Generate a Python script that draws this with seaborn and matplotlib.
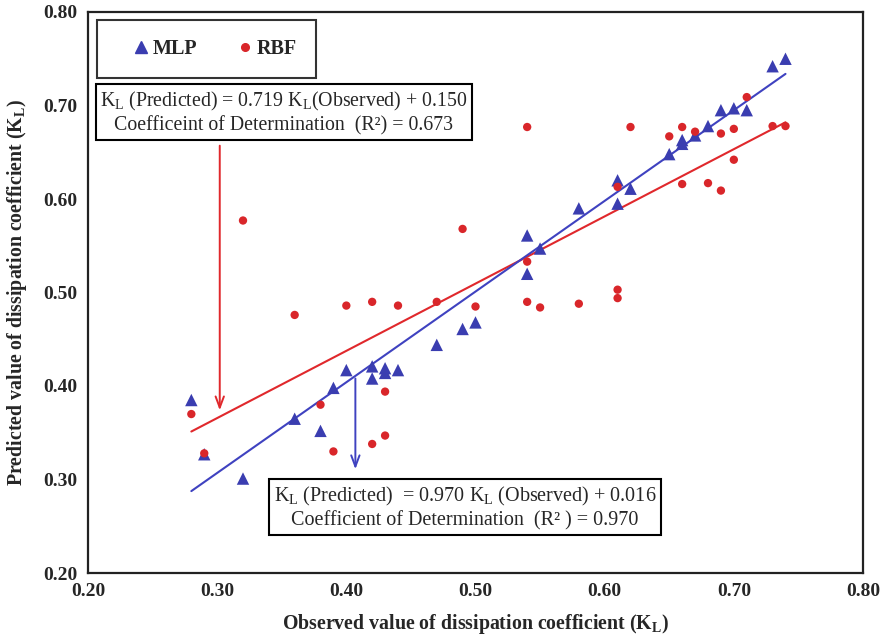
import numpy as np
import pandas as pd
import matplotlib
matplotlib.use("Agg")
import matplotlib.pyplot as plt
import seaborn as sns
from matplotlib.lines import Line2D

# ---- data ----
mlp_x = [0.28, 0.29, 0.32, 0.36, 0.38, 0.39, 0.40, 0.42, 0.42, 0.43, 0.43, 0.44,
         0.47, 0.49, 0.50, 0.54, 0.54, 0.55, 0.58, 0.61, 0.61, 0.62, 0.65, 0.66,
         0.66, 0.67, 0.68, 0.69, 0.70, 0.71, 0.73, 0.74]
mlp_y = [0.385, 0.327, 0.301, 0.365, 0.352, 0.398, 0.417, 0.421, 0.408, 0.419, 0.414, 0.417,
         0.444, 0.461, 0.468, 0.561, 0.520, 0.547, 0.590, 0.620, 0.595, 0.611, 0.648, 0.663,
         0.659, 0.668, 0.678, 0.695, 0.697, 0.695, 0.742, 0.750]
rbf_x = [0.28, 0.29, 0.32, 0.36, 0.38, 0.39, 0.40, 0.42, 0.42, 0.43, 0.43, 0.44,
         0.47, 0.49, 0.50, 0.54, 0.54, 0.54, 0.55, 0.58, 0.61, 0.61, 0.61, 0.62,
         0.65, 0.66, 0.66, 0.67, 0.68, 0.69, 0.69, 0.70, 0.70, 0.71, 0.73, 0.74]
rbf_y = [0.370, 0.328, 0.577, 0.476, 0.380, 0.330, 0.486, 0.490, 0.338, 0.394, 0.347, 0.486,
         0.490, 0.568, 0.485, 0.677, 0.533, 0.490, 0.484, 0.488, 0.613, 0.503, 0.494, 0.677,
         0.667, 0.677, 0.616, 0.672, 0.617, 0.670, 0.609, 0.675, 0.642, 0.709, 0.678, 0.678]

series = ["MLP", "RBF"]
fit_slope = {"MLP": 0.970, "RBF": 0.719}
fit_intercept = {"MLP": 0.016, "RBF": 0.150}

x_ticks = [0.20, 0.30, 0.40, 0.50, 0.60, 0.70, 0.80]
y_ticks = [0.20, 0.30, 0.40, 0.50, 0.60, 0.70, 0.80]

blue = "#3a3db0"
red = "#d9262a"
blue_line = "#3f42c0"
red_line = "#e0282c"

df = pd.DataFrame({
    "obs": mlp_x + rbf_x,
    "pred": mlp_y + rbf_y,
    "model": ["MLP"] * len(mlp_x) + ["RBF"] * len(rbf_x),
})

sns.set_style("white")
plt.rcParams["font.family"] = ["Liberation Serif", "DejaVu Serif"]
plt.rcParams["mathtext.fontset"] = "custom"
plt.rcParams["mathtext.rm"] = "Liberation Serif"
plt.rcParams["mathtext.it"] = "Liberation Serif:italic"
plt.rcParams["mathtext.bf"] = "Liberation Serif:bold"

fig = plt.figure(figsize=(8.82, 6.37), dpi=100)
ax = fig.add_axes([88 / 882, 1 - 573 / 637, (863 - 88) / 882, (573 - 12) / 637])

# regression lines (drawn under points)
xr = np.array([min(mlp_x), max(mlp_x)])
ax.plot(xr, fit_slope["RBF"] * xr + fit_intercept["RBF"], color=red_line, lw=1.5, zorder=2)
ax.plot(xr, fit_slope["MLP"] * xr + fit_intercept["MLP"], color=blue_line, lw=1.5, zorder=2)

sns.scatterplot(data=df, x="obs", y="pred", hue="model", style="model", size="model",
                hue_order=series, style_order=series, size_order=series,
                palette={"MLP": blue, "RBF": red},
                markers={"MLP": "^", "RBF": "o"},
                sizes={"MLP": 80, "RBF": 36},
                linewidth=0, ax=ax, legend=False, zorder=3)

ax.set_xlim(0.20, 0.80)
ax.set_ylim(0.20, 0.80)
ax.set_xticks(x_ticks)
ax.set_yticks(y_ticks)
ax.set_xticklabels([f"{t:.2f}" for t in x_ticks], fontweight="bold", fontsize=14)
ax.set_yticklabels([f"{t:.2f}" for t in y_ticks], fontweight="bold", fontsize=14)
ax.tick_params(axis="both", direction="inout", length=7, width=1.2, color="black", pad=4)
for sp in ax.spines.values():
    sp.set_color("#222222")
    sp.set_linewidth(1.6)

ax.set_xlabel(r"Observed value of dissipation coefficient (K$_\mathregular{L}$)",
              fontweight="bold", fontsize=14.3, labelpad=8)
ax.set_ylabel(r"Predicted value of dissipation coefficient (K$_\mathregular{L}$)",
              fontweight="bold", fontsize=14.3, labelpad=10)

# legend
handles = [Line2D([], [], marker="^", color=blue, linestyle="none", markersize=8),
           Line2D([], [], marker="o", color=red, linestyle="none", markersize=5.5)]
leg = ax.legend(handles, series, loc="upper left", bbox_to_anchor=(0.012, 0.986),
                ncol=2, frameon=True, fancybox=False, edgecolor="black",
                prop={"weight": "bold", "size": 14.5}, borderpad=0.95, borderaxespad=0,
                handlelength=2.4, handletextpad=-0.6, columnspacing=1.15)
leg.get_frame().set_linewidth(1.5)

# equation boxes
box = dict(boxstyle="square,pad=0.22", facecolor="white", edgecolor="black", linewidth=1.5)
ax.text(0.3515, 0.692,
        "K$_\\mathregular{L}$ (Predicted) = 0.719 K$_\\mathregular{L}$(Observed) + 0.150\n"
        "Coefficeint of Determination  (R\u00b2) = 0.673",
        ha="center", va="center", multialignment="center", fontsize=14.3, bbox=box, zorder=5)
ax.text(0.4918, 0.2695,
        "K$_\\mathregular{L}$ (Predicted)  = 0.970 K$_\\mathregular{L}$ (Observed) + 0.016\n"
        "Coefficient of Determination  (R\u00b2 ) = 0.970",
        ha="center", va="center", multialignment="center", fontsize=14.5, bbox=box, zorder=5)

# arrows
ax.annotate("", xy=(0.302, 0.371), xytext=(0.302, 0.660),
            arrowprops=dict(arrowstyle="->,head_length=0.8,head_width=0.3", color=red_line, lw=1.4))
ax.annotate("", xy=(0.407, 0.308), xytext=(0.407, 0.411),
            arrowprops=dict(arrowstyle="->,head_length=0.8,head_width=0.3", color=blue_line, lw=1.4))

fig.savefig("out.png", dpi=100)
